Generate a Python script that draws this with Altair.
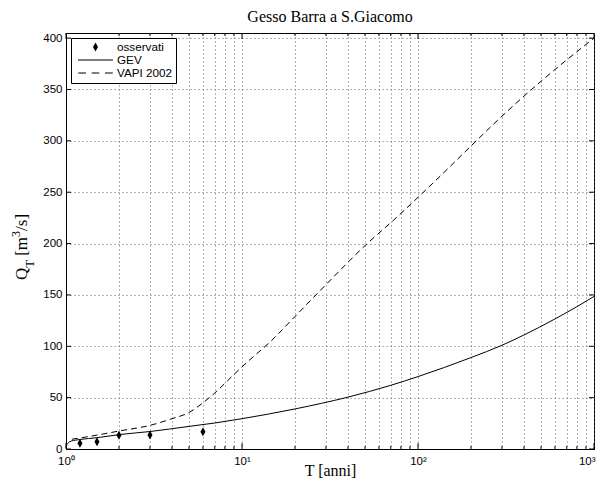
import altair as alt
import pandas as pd

# ---- data ----
obs_T = [1.2, 1.5, 2, 3, 6]
obs_Q = [5.5, 7, 13.3, 13.6, 16.8]

gev_T = [1.0, 1.01, 1.03, 1.07, 1.13, 1.2, 1.5, 2, 3, 5, 7, 10, 20, 40, 70,
         100, 200, 300, 400, 600, 800, 1000]
gev_Q = [1.5, 4, 6, 7.7, 8.6, 9.3, 11, 14, 17, 22, 25.3, 29.5, 39, 50.5, 62,
         70.5, 89, 101, 111, 126.6, 138.6, 148.5]

vapi_T = [1.08, 1.5, 2, 3, 4, 5, 6, 7, 8, 10, 15, 20, 30, 50, 75, 100, 150,
          200, 300, 500, 750, 1000]
vapi_Q = [9.5, 13.5, 17.5, 23, 29.5, 35.5, 45, 54.5, 64, 80, 107, 129, 160,
          198, 225, 245, 274, 295, 324, 358, 383, 400]

series = ["osservati", "GEV", "VAPI 2002"]
x_major = [1, 10, 100, 1000]
x_minor = [m * 10 ** e for e in range(3) for m in range(2, 10)]
x_grid = sorted(x_major + x_minor)
y_ticks = list(range(0, 401, 50))

# ---- tables ----
obs_df = pd.DataFrame({"T": obs_T, "Q": obs_Q, "serie": "osservati"})
gev_df = pd.DataFrame({"T": gev_T, "Q": gev_Q})
vapi_df = pd.DataFrame({"T": vapi_T, "Q": vapi_Q})
xmaj_df = pd.DataFrame({"v": x_major})
xmin_df = pd.DataFrame({"v": x_minor})
yt_df = pd.DataFrame({"v": y_ticks})
one = pd.DataFrame({"a": [0]})

# legend / marker symbols as filled paths (unit = sqrt(size)/2 px)
diamond = "M0,-0.75L0.42,0L0,0.75L-0.42,0Z"
solid = "M-2.92,-0.09L2.92,-0.09L2.92,0.09L-2.92,0.09Z"
dashed = ("M-2.88,-0.09L-1.58,-0.09L-1.58,0.09L-2.88,0.09Z"
          "M-0.63,-0.09L0.63,-0.09L0.63,0.09L-0.63,0.09Z"
          "M1.58,-0.09L2.88,-0.09L2.88,0.09L1.58,0.09Z")

xs = alt.Scale(type="log", domain=[1, 1000], nice=False)
ys = alt.Scale(domain=[0, 405], nice=False, zero=True)

label_expr = ("datum.value == 1 ? '10⁰' : datum.value == 10 ? '10¹' : "
              "datum.value == 100 ? '10²' : datum.value == 1000 ? '10³' : ''")
xaxis = alt.Axis(values=x_grid, labelExpr=label_expr, title="T [anni]",
                 ticks=False, labelPadding=6, labelOverlap=False,
                 labelFlush=False,
                 labelAlign={"condition": {"test": "datum.value == 1000",
                                           "value": "right"},
                             "value": "center"},
                 labelOffset={"condition": {"test": "datum.value == 1000",
                                            "value": 1},
                              "value": 0},
                 titleY=26, titleBaseline="alphabetic")
yaxis = alt.Axis(values=y_ticks, title=None, ticks=False, labelPadding=4)

XT = alt.X("T:Q", scale=xs, axis=xaxis)
YQ = alt.Y("Q:Q", scale=ys, axis=yaxis)

vapi_line = alt.Chart(vapi_df).mark_line(
    color="black", strokeWidth=1, strokeDash=[6, 4], interpolate="monotone"
).encode(x=XT, y=YQ)

gev_line = alt.Chart(gev_df).mark_line(
    color="black", strokeWidth=1, interpolate="monotone"
).encode(x=XT, y=YQ)

pts = alt.Chart(obs_df).mark_point(
    filled=True, color="black", strokeWidth=0, opacity=1, size=144,
).encode(
    x=XT, y=YQ,
    shape=alt.Shape(
        "serie:N",
        scale=alt.Scale(domain=series, range=[diamond, solid, dashed]),
        legend=alt.Legend(
            title=None, orient="top-left", offset=5, padding=3,
            strokeColor="black", fillColor="white",
            labelFont="Liberation Sans", labelFontSize=11.7,
            labelColor="black", symbolSize=144, symbolStrokeWidth=0,
            symbolFillColor="black",
            symbolOffset=15.5, labelOffset=15.5, rowPadding=0,
        ),
    ),
)

# inward tick marks on the four sides of the box (MATLAB style)
XV = alt.X("v:Q", scale=xs, axis=xaxis)
YV = alt.Y("v:Q", scale=ys, axis=yaxis)
tick_style = dict(color="black", strokeWidth=1)
ticks = [
    alt.Chart(xmaj_df).mark_rule(**tick_style).encode(
        x=XV, y=alt.value(416), y2=alt.value(410)),
    alt.Chart(xmaj_df).mark_rule(**tick_style).encode(
        x=XV, y=alt.value(0), y2=alt.value(6)),
    alt.Chart(xmin_df).mark_rule(**tick_style).encode(
        x=XV, y=alt.value(416), y2=alt.value(413)),
    alt.Chart(xmin_df).mark_rule(**tick_style).encode(
        x=XV, y=alt.value(0), y2=alt.value(3)),
    alt.Chart(yt_df).mark_rule(**tick_style).encode(
        y=YV, x=alt.value(0), x2=alt.value(5)),
    alt.Chart(yt_df).mark_rule(**tick_style).encode(
        y=YV, x=alt.value(528), x2=alt.value(523)),
]


def ytext(txt, x, y, size):
    return alt.Chart(one).mark_text(
        text=txt, angle=270, align="left", baseline="alphabetic",
        font="Liberation Serif", fontSize=size, color="black",
    ).encode(x=alt.value(x), y=alt.value(y))


ytitle = [
    ytext("Q", -39, 247, 17),
    ytext("T", -32, 234.7, 13),
    ytext("[m", -39, 222.8, 17),
    ytext("3", -46, 203.9, 12),
    ytext("/s]", -39, 197.9, 17),
]

chart = alt.layer(*ticks, vapi_line, gev_line, pts, *ytitle).properties(
    width=528, height=416,
    title=alt.TitleParams("Gesso Barra a S.Giacomo", font="Liberation Serif",
                          fontSize=16, fontWeight="normal", color="black",
                          offset=7, anchor="middle"),
    autosize=alt.AutoSizeParams(type="none"),
    padding={"left": 58, "top": 25, "right": 2, "bottom": 29},
).configure_view(
    stroke="black", strokeWidth=1
).configure_axis(
    labelFont="Liberation Sans", labelFontSize=11.5, labelColor="black",
    titleFont="Liberation Serif", titleFontSize=16, titleFontWeight="normal",
    titleColor="black", domainColor="black", domainWidth=1,
    grid=True, gridColor="#666666", gridDash=[1, 3], gridWidth=1,
    gridOpacity=1,
)

chart.save("out.html", embed_options={"renderer": "svg", "actions": False})
